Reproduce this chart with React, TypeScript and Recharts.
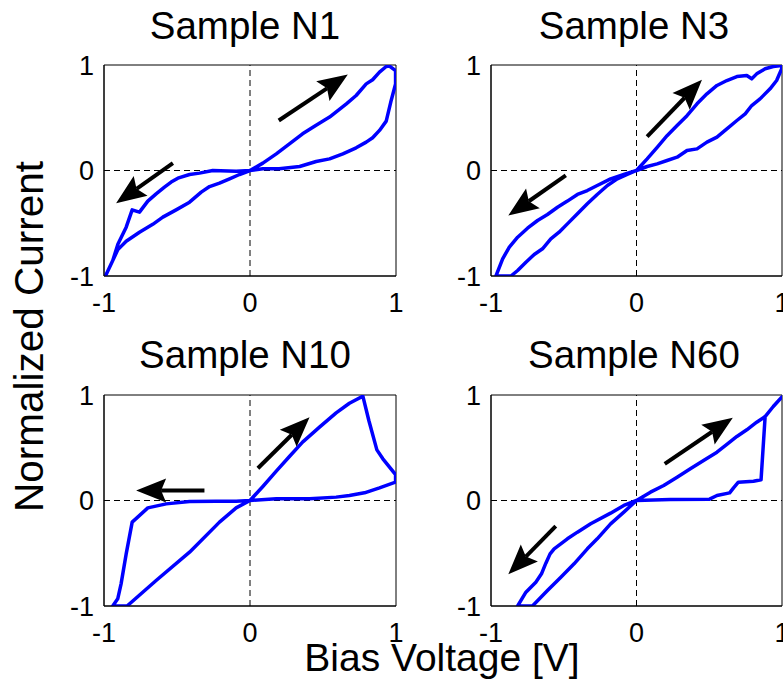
import React from "react";
import { LineChart, Line, XAxis, YAxis, ReferenceLine, ReferenceArea } from "recharts";

const font = "'Liberation Sans', Arial, Helvetica, sans-serif";
const axisTicks = [-1, 0, 1];

// Sample N1 : one sweep 0 -> 1 -> 0 -> -1 -> 0
const n1Volt = [
  0, 0.088, 0.18, 0.27, 0.36, 0.45, 0.545, 0.66, 0.727, 0.796, 0.84, 0.887, 0.933, 0.955, 0.997,
  0.997, 0.967, 0.933, 0.887, 0.84, 0.796, 0.727, 0.636, 0.545, 0.453, 0.34, 0.2, 0.088, 0,
  -0.095, -0.255, -0.346, -0.414, -0.494, -0.54, -0.586, -0.643, -0.7, -0.757, -0.78, -0.807, -0.848, -0.905, -0.94, -0.99,
  -0.905, -0.848, -0.757, -0.666, -0.597, -0.506, -0.414, -0.334, -0.277, -0.209, -0.14, -0.072, 0,
];
const n1Curr = [
  0, 0.07, 0.158, 0.253, 0.348, 0.427, 0.506, 0.632, 0.711, 0.821, 0.86, 0.932, 0.986, 0.99, 0.948,
  0.82, 0.664, 0.468, 0.38, 0.31, 0.269, 0.215, 0.158, 0.11, 0.085, 0.038, 0.016, 0.016, 0,
  -0.006, 0, -0.025, -0.038, -0.073, -0.11, -0.158, -0.221, -0.29, -0.395, -0.385, -0.373, -0.537, -0.7, -0.853, -1,
  -0.75, -0.67, -0.585, -0.51, -0.442, -0.373, -0.3, -0.205, -0.152, -0.12, -0.079, -0.038, 0,
];
const n1Arrows = [
  [0.197, 0.474, 0.67, 0.91],
  [-0.528, 0.07, -0.917, -0.31],
];

// Sample N3
const n3Volt = [
  0, 0.073, 0.142, 0.21, 0.279, 0.347, 0.416, 0.484, 0.553, 0.621, 0.69, 0.758, 0.792, 0.826, 0.884, 0.94, 0.998,
  0.998, 0.963, 0.918, 0.849, 0.792, 0.747, 0.69, 0.621, 0.553, 0.484, 0.416, 0.347, 0.279, 0.21, 0.142, 0.073, 0,
  -0.087, -0.178, -0.27, -0.338, -0.406, -0.475, -0.543, -0.612, -0.68, -0.749, -0.817, -0.874, -0.92, -0.966,
  -0.863, -0.817, -0.76, -0.703, -0.646, -0.589, -0.532, -0.475, -0.406, -0.338, -0.27, -0.2, -0.132, -0.064, 0,
];
const n3Curr = [
  0, 0.11, 0.22, 0.33, 0.427, 0.52, 0.632, 0.727, 0.806, 0.853, 0.89, 0.9, 0.869, 0.916, 0.964, 0.986, 0.995,
  0.964, 0.853, 0.774, 0.679, 0.616, 0.537, 0.474, 0.395, 0.316, 0.269, 0.205, 0.19, 0.126, 0.095, 0.063, 0.038, 0,
  -0.038, -0.079, -0.142, -0.19, -0.227, -0.29, -0.348, -0.417, -0.474, -0.547, -0.632, -0.727, -0.837, -1,
  -1, -0.948, -0.869, -0.796, -0.742, -0.648, -0.585, -0.506, -0.41, -0.316, -0.227, -0.142, -0.079, -0.038, 0,
];
const n3Arrows = [
  [0.073, 0.322, 0.45, 0.86],
  [-0.486, -0.047, -0.881, -0.427],
];

// Sample N10
const n10Volt = [
  0, 0.088, 0.18, 0.27, 0.36, 0.476, 0.59, 0.681, 0.773,
  0.814, 0.869, 0.91, 0.997, 0.997, 0.887, 0.784, 0.681, 0.59, 0.408, 0.18, 0,
  -0.095, -0.232, -0.414, -0.574, -0.7, -0.807, -0.848, -0.883, -0.906, -0.94,
  -0.842, -0.643, -0.414, -0.209, -0.095, 0,
];
const n10Curr = [
  0, 0.133, 0.278, 0.417, 0.553, 0.695, 0.83, 0.922, 0.989,
  0.758, 0.48, 0.395, 0.246, 0.174, 0.12, 0.073, 0.047, 0.032, 0.016, 0.016, 0,
  -0.006, -0.006, -0.01, -0.032, -0.07, -0.205, -0.506, -0.79, -0.932, -1,
  -1, -0.758, -0.49, -0.205, -0.07, 0,
];
const n10Arrows = [
  [0.054, 0.306, 0.408, 0.79],
  [-0.312, 0.095, -0.78, 0.095],
];

// Sample N60
const n60Volt = [
  0, 0.096, 0.187, 0.279, 0.37, 0.461, 0.553, 0.621, 0.69, 0.758, 0.826, 0.884, 0.94, 0.998,
  0.94, 0.884, 0.856, 0.804, 0.7, 0.667, 0.64, 0.553, 0.502, 0.233, 0,
  -0.087, -0.178, -0.315, -0.406, -0.475, -0.566, -0.594, -0.623, -0.653, -0.692, -0.76, -0.817,
  -0.715, -0.612, -0.52, -0.429, -0.338, -0.27, -0.178, -0.087, 0,
];
const n60Curr = [
  0, 0.079, 0.142, 0.221, 0.3, 0.379, 0.458, 0.531, 0.607, 0.67, 0.742, 0.796, 0.891, 0.98,
  0.891, 0.796, 0.196, 0.183, 0.174, 0.12, 0.072, 0.047, 0.013, 0.01, 0,
  -0.047, -0.12, -0.221, -0.3, -0.363, -0.458, -0.506, -0.594, -0.695, -0.774, -0.869, -1,
  -1, -0.853, -0.727, -0.6, -0.458, -0.363, -0.221, -0.11, 0,
];
const n60Arrows = [
  [0.194, 0.348, 0.662, 0.784],
  [-0.555, -0.243, -0.881, -0.7],
];

const toRows = (volt: number[], curr: number[]) => volt.map((v, k) => ({ v, i: curr[k] }));

// black arrow with a slightly swept-back head
const ArrowShape = (props: any) => {
  const { x1, y1, x2, y2 } = props;
  const dx = x2 - x1;
  const dy = y2 - y1;
  const len = Math.hypot(dx, dy) || 1;
  const ux = dx / len;
  const uy = dy / len;
  const nx = -uy;
  const ny = ux;
  const headLen = 30;
  const half = 12;
  const notch = 5;
  const bx = x2 - ux * headLen;
  const by = y2 - uy * headLen;
  const mx = bx + ux * notch;
  const my = by + uy * notch;
  const pts = [
    [x2, y2],
    [bx + nx * half, by + ny * half],
    [mx, my],
    [bx - nx * half, by - ny * half],
  ]
    .map((p) => p.join(","))
    .join(" ");
  return (
    <g>
      <line x1={x1} y1={y1} x2={mx} y2={my} stroke="#000" strokeWidth={4} />
      <polygon points={pts} fill="#000" />
    </g>
  );
};

const tickStyle = { fill: "#000", fontSize: 27, fontFamily: font };

function Panel({ volt, curr, arrows, left, top, width, marginLeft, marginRight }: any) {
  const rows = toRows(volt, curr);
  return (
    <div style={{ position: "absolute", left, top }}>
      <LineChart
        width={width}
        height={340}
        data={rows}
        margin={{ top: 65, right: marginRight, bottom: 14, left: marginLeft }}
      >
        <XAxis
          dataKey="v"
          type="number"
          domain={[-1, 1]}
          ticks={axisTicks}
          interval={0}
          allowDataOverflow
          height={50}
          tickSize={0}
          tickMargin={17}
          axisLine={{ stroke: "#000" }}
          tick={tickStyle}
        />
        <YAxis
          type="number"
          domain={[-1, 1]}
          ticks={axisTicks}
          interval={0}
          allowDataOverflow
          width={60}
          tickSize={0}
          tickMargin={10}
          axisLine={{ stroke: "#000" }}
          tick={tickStyle}
        />
        <ReferenceArea x1={-1} x2={1} y1={-1} y2={1} fill="none" stroke="#000" strokeWidth={1} />
        <ReferenceLine x={0} stroke="#000" strokeDasharray="6 4" />
        <ReferenceLine y={0} stroke="#000" strokeDasharray="6 4" />
        <Line
          dataKey="i"
          type="linear"
          stroke="#0000ff"
          strokeWidth={3.5}
          strokeLinejoin="round"
          dot={false}
          isAnimationActive={false}
        />
        {arrows.map((a: number[], k: number) => (
          <ReferenceLine
            key={k}
            segment={[
              { x: a[0], y: a[1] },
              { x: a[2], y: a[3] },
            ]}
            shape={ArrowShape}
          />
        ))}
      </LineChart>
    </div>
  );
}

export default function App() {
  return (
    <div
      style={{
        position: "absolute",
        left: 0,
        top: 0,
        width: 783,
        height: 683,
        background: "#fff",
        overflow: "hidden",
      }}
    >
      <Panel volt={n1Volt} curr={n1Curr} arrows={n1Arrows} left={0} top={0} width={420} marginLeft={44} marginRight={24} />
      <Panel volt={n3Volt} curr={n3Curr} arrows={n3Arrows} left={400} top={0} width={383} marginLeft={31} marginRight={1} />
      <Panel volt={n10Volt} curr={n10Curr} arrows={n10Arrows} left={0} top={330} width={420} marginLeft={44} marginRight={24} />
      <Panel volt={n60Volt} curr={n60Curr} arrows={n60Arrows} left={400} top={330} width={383} marginLeft={31} marginRight={1} />
      <svg
        width={783}
        height={683}
        style={{ position: "absolute", left: 0, top: 0, pointerEvents: "none" }}
        fontFamily={font}
        fill="#000"
      >
        <text x={245} y={38.5} fontSize={38.5} textAnchor="middle">Sample N1</text>
        <text x={634} y={38.5} fontSize={38.5} textAnchor="middle">Sample N3</text>
        <text x={245} y={367.5} fontSize={38.5} textAnchor="middle">Sample N10</text>
        <text x={634} y={367.5} fontSize={38.5} textAnchor="middle">Sample N60</text>
        <text x={442} y={671} fontSize={39} textAnchor="middle">Bias Voltage [V]</text>
        <text transform="translate(43,336.5) rotate(-90)" fontSize={40.5} textAnchor="middle">
          Normalized Current
        </text>
      </svg>
    </div>
  );
}
